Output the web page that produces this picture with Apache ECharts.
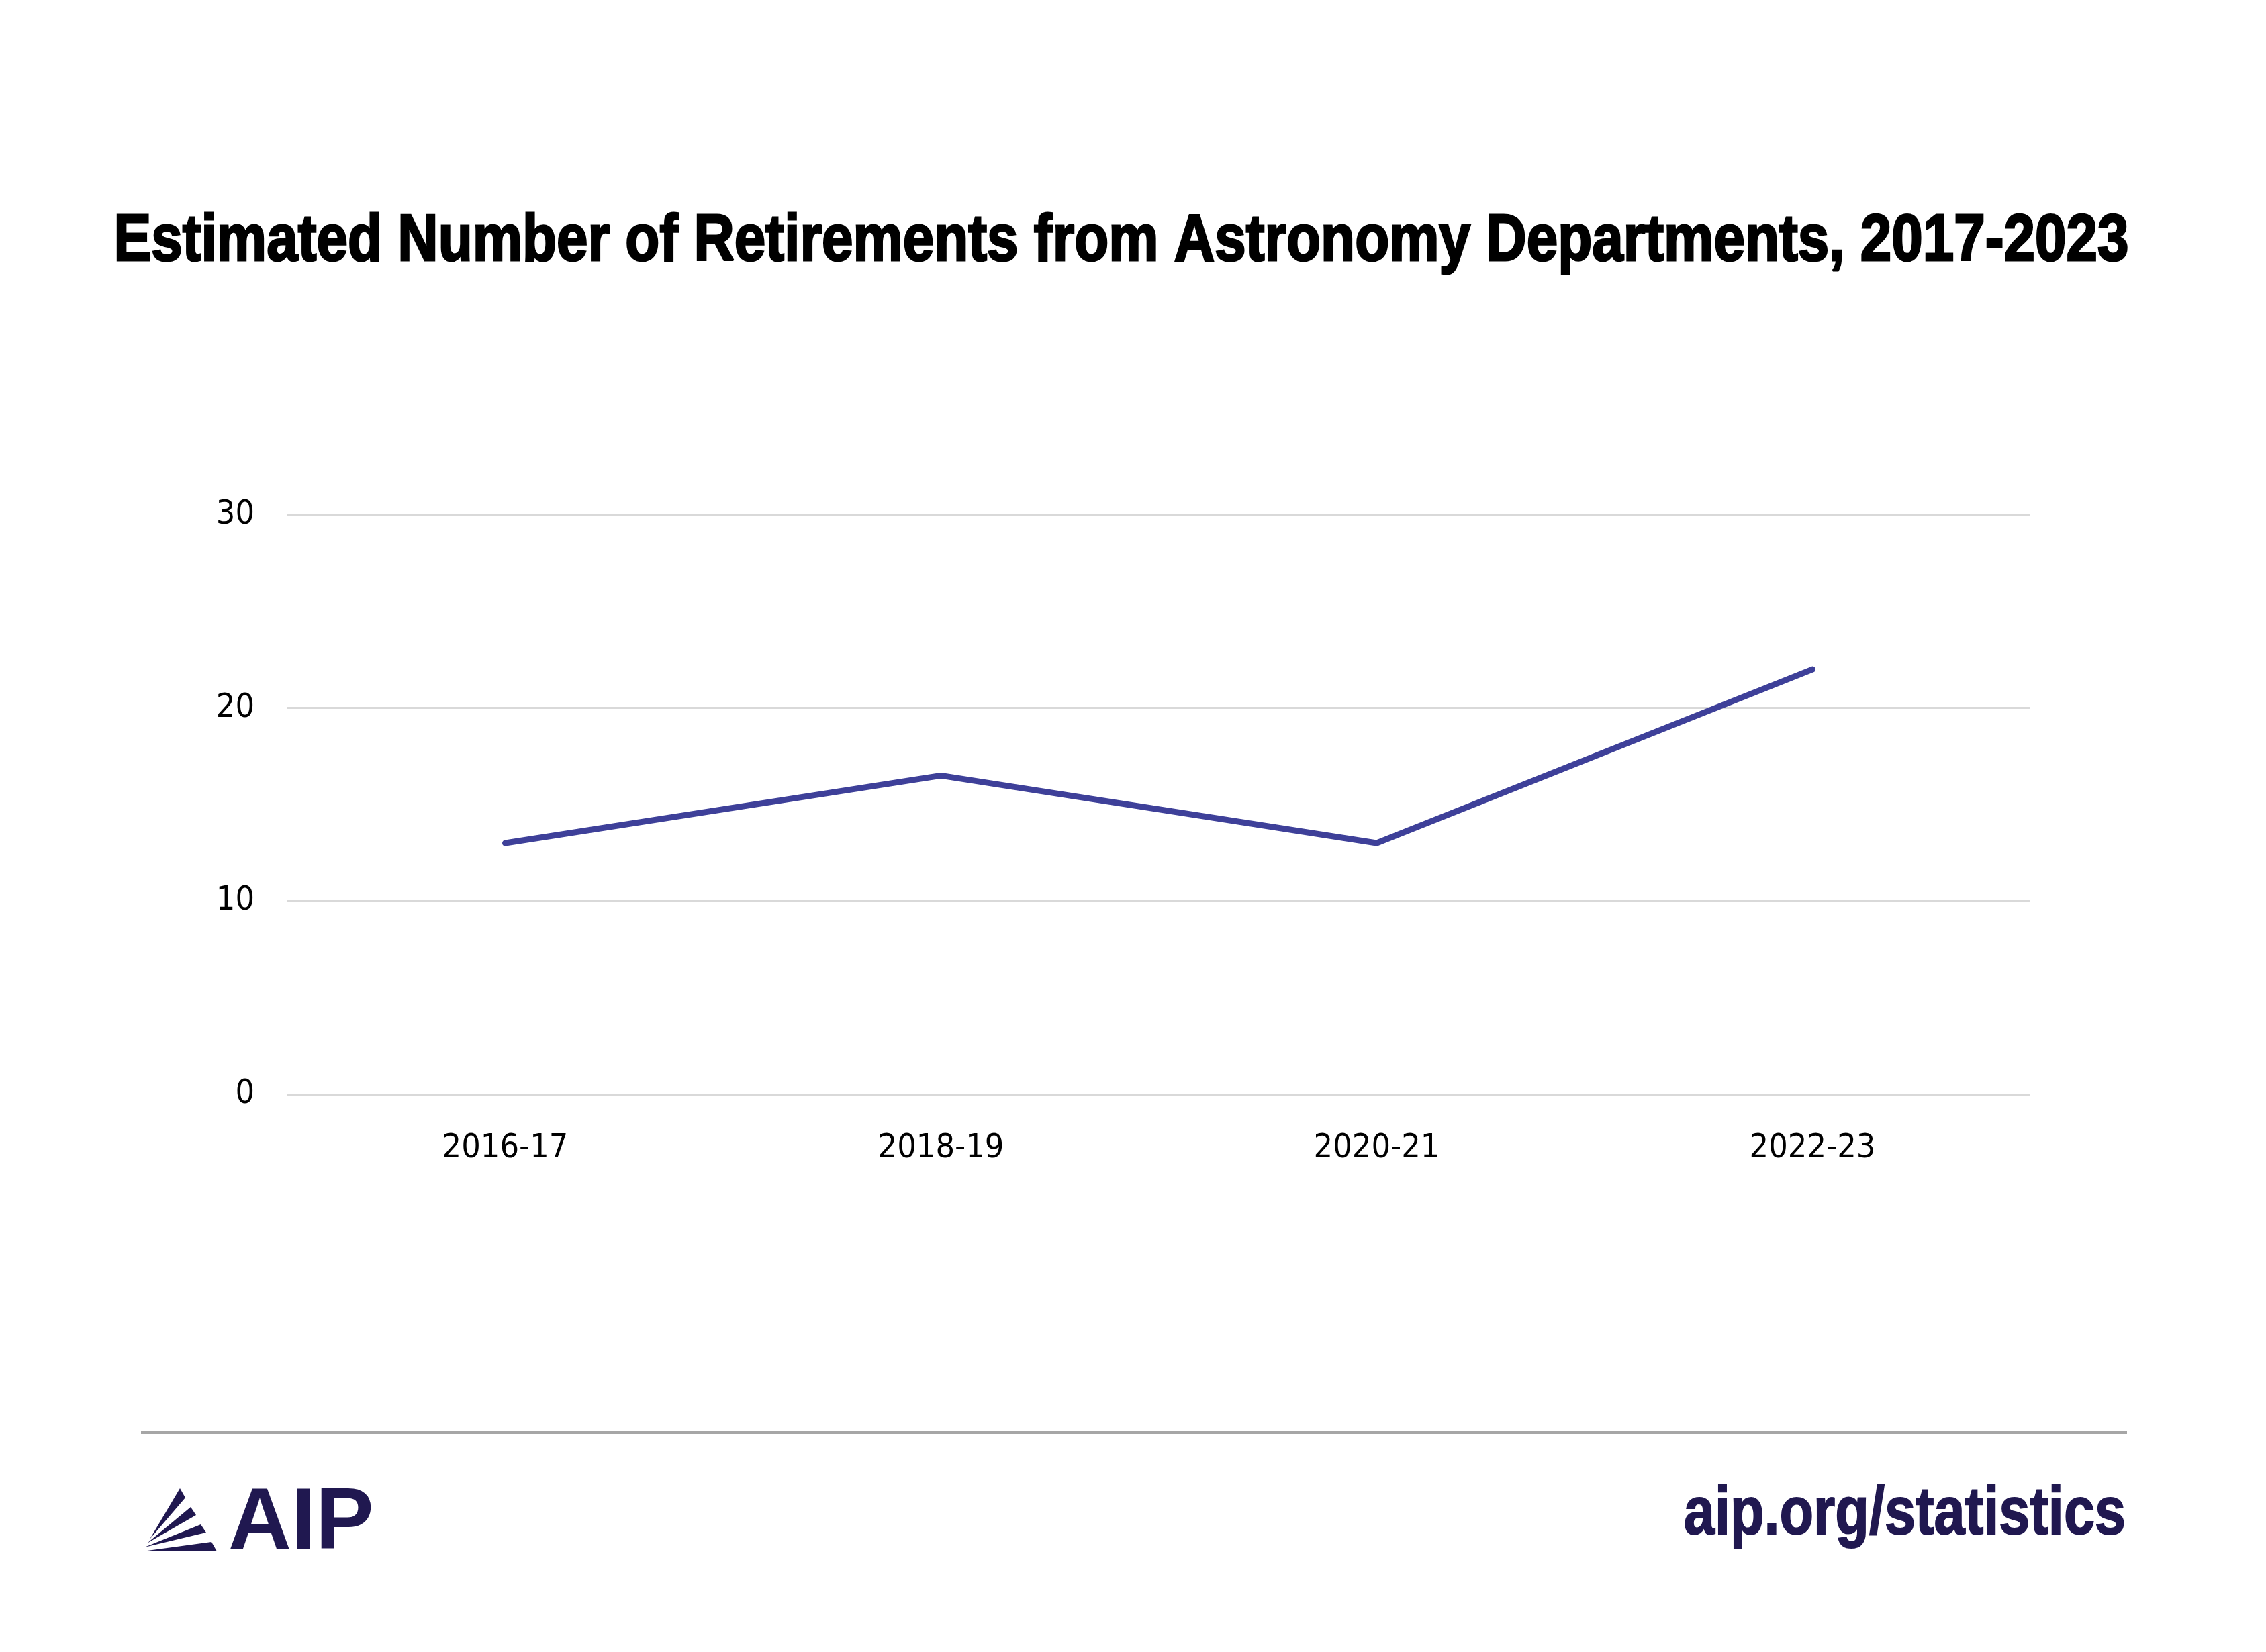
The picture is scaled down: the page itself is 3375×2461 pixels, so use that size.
<!DOCTYPE html>
<html lang="en">
<head>
    <meta charset="UTF-8" />
    <title>Estimated Number of Retirements from Astronomy Departments</title>
    <style>
        html, body { margin: 0; padding: 0; background: #fff; }
    </style>
</head>
<body>
<!-- chart -->
<div id="main" style="width: 3375px; height: 2461px"></div>
<script src="https://cdn.jsdelivr.net/npm/echarts@6/dist/echarts.min.js"></script>
<script>
  // data
  var years = ["2016-17", "2018-19", "2020-21", "2022-23"];
  var retirements = [13, 16.5, 13, 22];
  var yMin = 0, yMax = 30, yStep = 10;

  var titleText = "Estimated Number of Retirements from Astronomy Departments, 2017-2023";
  var sans = "'Liberation Sans', Arial, sans-serif";
  var labelFont = "'DejaVu Sans Condensed', 'Liberation Sans', sans-serif";
  var navy = "#201850";

  var myChart = echarts.init(document.getElementById("main"));

  var option = {
    backgroundColor: "#ffffff",
    animation: false,
    grid: {
      left: 428,
      top: 767,
      width: 2596,
      height: 863
    },
    xAxis: {
      type: "category",
      data: years,
      boundaryGap: true,
      axisLine: { show: false },
      axisTick: { show: false },
      axisLabel: {
        margin: 56,
        fontFamily: labelFont,
        fontSize: 50,
        color: "#000000"
      }
    },
    yAxis: {
      type: "value",
      min: yMin,
      max: yMax,
      interval: yStep,
      axisLine: { show: false },
      axisTick: { show: false },
      axisLabel: {
        margin: 49,
        fontFamily: labelFont,
        fontSize: 50,
        color: "#000000"
      },
      splitLine: {
        lineStyle: { color: "#d9d9d9", width: 3 }
      }
    },
    series: [
      {
        type: "line",
        data: retirements,
        symbol: "none",
        lineStyle: { color: "#3e4099", width: 9, cap: "round", join: "round" }
      }
    ],
    graphic: [
      // title, squeezed sideways to look like a condensed face
      {
        type: "text",
        x: 1670,
        y: 361,
        scaleX: 0.853,
        style: {
          text: titleText,
          fontFamily: sans,
          fontWeight: "bold",
          fontSize: 98,
          fill: "#000000",
          stroke: "#000000",
          lineWidth: 3,
          align: "center",
          verticalAlign: "middle"
        }
      },
      // footer: rule, AIP logo and site link
      {
        type: "line",
        shape: { x1: 210, y1: 2134, x2: 3168, y2: 2134 },
        style: { stroke: "#a6a6a6", lineWidth: 4 }
      },
      { type: "polygon", shape: { points: [[223, 2293], [268, 2217], [276, 2231]] }, style: { fill: navy } },
      { type: "polygon", shape: { points: [[219, 2299], [284, 2245], [292, 2257]] }, style: { fill: navy } },
      { type: "polygon", shape: { points: [[215, 2305], [299, 2271], [307, 2283]] }, style: { fill: navy } },
      { type: "polygon", shape: { points: [[212, 2311], [315, 2297], [323, 2311]] }, style: { fill: navy } },
      {
        type: "text",
        left: 340,
        top: 2206,
        style: {
          text: "AIP",
          fontFamily: sans,
          fontWeight: "bold",
          fontSize: 130,
          fill: navy
        }
      },
      {
        type: "text",
        x: 3166,
        y: 2257,
        scaleX: 0.82,
        style: {
          text: "aip.org/statistics",
          fontFamily: sans,
          fontWeight: "bold",
          fontSize: 101,
          fill: navy,
          stroke: navy,
          lineWidth: 2,
          align: "right",
          verticalAlign: "middle"
        }
      }
    ]
  };

  myChart.setOption(option);
</script>
</body>
</html>
